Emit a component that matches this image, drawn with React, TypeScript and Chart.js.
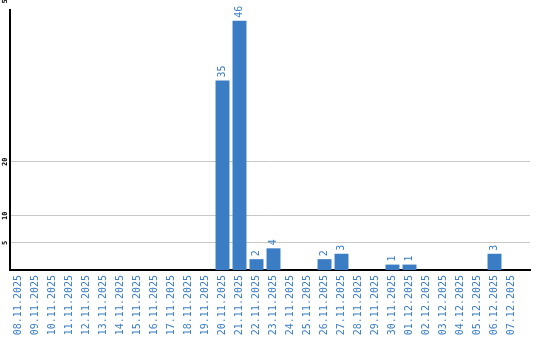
import React, { useEffect, useRef } from "react";
import { Chart, registerables } from "chart.js";

Chart.register(...registerables);

const dates = [
  "08.11.2025", "09.11.2025", "10.11.2025", "11.11.2025", "12.11.2025", "13.11.2025",
  "14.11.2025", "15.11.2025", "16.11.2025", "17.11.2025", "18.11.2025", "19.11.2025",
  "20.11.2025", "21.11.2025", "22.11.2025", "23.11.2025", "24.11.2025", "25.11.2025",
  "26.11.2025", "27.11.2025", "28.11.2025", "29.11.2025", "30.11.2025", "01.12.2025",
  "02.12.2025", "03.12.2025", "04.12.2025", "05.12.2025", "06.12.2025", "07.12.2025",
];
const counts = [
  0, 0, 0, 0, 0, 0,
  0, 0, 0, 0, 0, 0,
  35, 46, 2, 4, 0, 0,
  2, 3, 0, 0, 1, 1,
  0, 0, 0, 0, 3, 0,
];
const yTicks = [5, 10, 20];
const yLabelTicks = [5, 10, 20, 50];
const yMax = 48;

const BLUE = "#3a7dc4";
const MONO = "'DejaVu Sans Mono', monospace";

const shrinkX = {
  id: "shrinkX",
  afterLayout(chart: any) {
    const x = chart.scales.x;
    x._endPixel = x.right - 10;
    x._length = x._endPixel - x._startPixel;
  },
};

const labelsPlugin = {
  id: "labelsPlugin",
  afterDatasetsDraw(chart: any) {
    const ctx = chart.ctx;
    const meta = chart.getDatasetMeta(0);
    const data = chart.data.datasets[0].data as number[];
    ctx.save();
    ctx.fillStyle = BLUE;
    ctx.font = `10px ${MONO}`;
    ctx.textAlign = "left";
    ctx.textBaseline = "middle";
    meta.data.forEach((bar: any, i: number) => {
      const v = data[i];
      if (!v) return;
      ctx.save();
      ctx.translate(bar.x, bar.y - 3);
      ctx.rotate(-Math.PI / 2);
      ctx.fillText(String(v), 0, 0);
      ctx.restore();
    });
    ctx.restore();
  },
  afterDraw(chart: any) {
    const ctx = chart.ctx;
    const y = chart.scales.y;
    ctx.save();
    ctx.fillStyle = "#000";
    ctx.font = `bold 7px ${MONO}`;
    ctx.textAlign = "center";
    ctx.textBaseline = "middle";
    yLabelTicks.forEach((v) => {
      const py = y.getPixelForValue(v);
      ctx.save();
      ctx.translate(5, py);
      ctx.rotate(-Math.PI / 2);
      ctx.fillText(String(v), 0, 0);
      ctx.restore();
    });
    ctx.restore();
  },
};

export default function App() {
  const ref = useRef<HTMLCanvasElement>(null);
  useEffect(() => {
    document.body.style.margin = "0";
    const chart = new Chart(ref.current!, {
      type: "bar",
      data: {
        labels: dates,
        datasets: [
          {
            data: counts,
            backgroundColor: BLUE,
            borderWidth: 0,
            barPercentage: 0.82,
            categoryPercentage: 1.0,
          },
        ],
      },
      options: {
        animation: false,
        responsive: false,
        maintainAspectRatio: false,
        layout: { padding: { top: 10, right: 10, left: 0, bottom: 0 } },
        plugins: { legend: { display: false }, tooltip: { enabled: false } },
        scales: {
          x: {
            grid: { display: false, drawTicks: false },
            border: { display: true, color: "#000", width: 2 },
            ticks: {
              autoSkip: false,
              minRotation: 90,
              maxRotation: 90,
              color: BLUE,
              font: { family: MONO, size: 10 },
              padding: 5,
            },
            afterFit: (s: any) => {
              s.height = 70;
            },
          },
          y: {
            min: 0,
            max: yMax,
            afterBuildTicks: (s: any) => {
              s.ticks = yTicks.map((v) => ({ value: v }));
            },
            grid: { color: "#c8c8c8", drawTicks: false, lineWidth: 1 },
            border: { display: true, color: "#000", width: 2 },
            ticks: { display: false },
            afterFit: (s: any) => {
              s.width = 10;
            },
          },
        },
      },
      plugins: [shrinkX, labelsPlugin],
    });
    return () => chart.destroy();
  }, []);
  return (
    <div style={{ position: "fixed", left: 0, top: 0, width: 540, height: 340 }}>
      <canvas ref={ref} width={540} height={340} style={{ width: 540, height: 340 }} />
    </div>
  );
}
